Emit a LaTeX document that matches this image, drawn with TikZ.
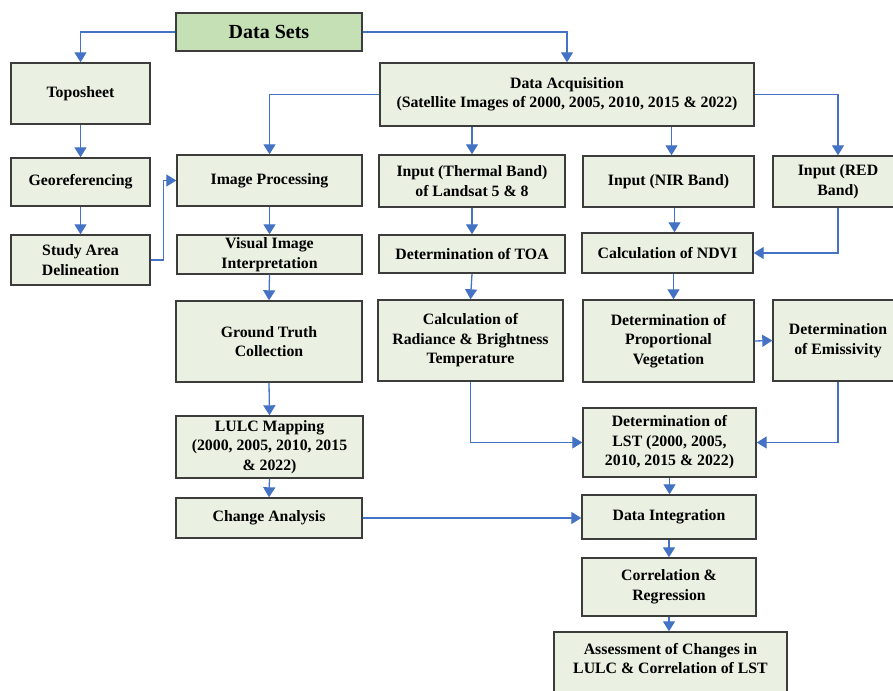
\documentclass[tikz,border=0pt]{standalone}
\usepackage{fontspec}
\setmainfont{Liberation Serif}
\usetikzlibrary{arrows.meta}
\definecolor{boxfill}{HTML}{EAF0E2}
\definecolor{topfill}{HTML}{C5E0B4}
\definecolor{boxline}{HTML}{3C3C3C}
\definecolor{arr}{HTML}{4472C4}
\tikzset{
  bx/.style={draw=boxline, line width=1.4pt, fill=boxfill, align=center, inner sep=0pt,
    font=\fontsize{15.8}{19.5}\selectfont\bfseries},
  topbx/.style={bx, fill=topfill, font=\fontsize{20}{23}\selectfont\bfseries},
  ar/.style={draw=arr, line width=1.3pt, -{Triangle[width=12pt,length=10pt]}}
}
\newcommand{\bnode}[7][bx]{%
  \node[#1, minimum width={(#5)-(#3)}, minimum height={(#6)-(#4)}] (#2) at ({((#3)+(#5))/2},{((#4)+(#6))/2}) {#7};}
\begin{document}
\begin{tikzpicture}[x=1pt,y=-1pt]
\path[use as bounding box] (0,0) rectangle (893,690);
\clip (0,0) rectangle (893,690);
\fill[white] (0,0) rectangle (893,690);
% nodes
\bnode[topbx]{ds}{176}{13}{362}{51}{Data Sets}
\bnode{topo}{11}{63}{150}{124}{Toposheet}
\bnode{geo}{11}{158}{150}{206}{Georeferencing}
\bnode{sa}{11}{235}{150}{285}{Study Area\\Delineation}
\bnode{da}{380}{63}{754}{126}{Data Acquisition\\(Satellite Images of 2000, 2005, 2010, 2015 \& 2022)}
\bnode{ip}{177}{155}{362}{206}{Image Processing}
\bnode{vi}{177}{235}{362}{274}{Visual Image\\Interpretation}
\bnode{gt}{176}{301}{362}{382}{Ground Truth\\Collection}
\bnode{lulc}{176}{416}{363}{478}{LULC Mapping\\(2000, 2005, 2010, 2015\\\& 2022)}
\bnode{ch}{176}{498}{362}{538}{Change Analysis}
\bnode{th}{379}{155}{565}{207}{Input (Thermal Band)\\of Landsat 5 \& 8}
\bnode{toa}{379}{235}{565}{273}{Determination of TOA}
\bnode{rad}{378}{300}{563}{381}{Calculation of\\Radiance \& Brightness\\Temperature}
\bnode{nir}{583}{156}{754}{207}{Input (NIR Band)}
\bnode{ndvi}{582}{233}{753}{273}{Calculation of NDVI}
\bnode{pv}{583}{300}{754}{382}{Determination of\\Proportional\\Vegetation}
\bnode{red}{773}{156}{903}{207}{Input (RED\\Band)}
\bnode{em}{773}{300}{903}{381}{Determination\\of Emissivity}
\bnode{lst}{583}{408}{756}{477}{Determination of\\LST (2000, 2005,\\2010, 2015 \& 2022)}
\bnode{di}{582}{495}{756}{539}{Data Integration}
\bnode{cr}{582}{558}{756}{616}{Correlation \&\\Regression}
\bnode{as}{554}{632}{787}{700}{Assessment of Changes in\\LULC \& Correlation of LST\\[-4pt]\mbox{}}
% connectors
\draw[ar] (ds.west) -| (topo.north);
\draw[ar] (ds.east) -| (da.north);
\draw[ar] (topo.south) -- (geo.north);
\draw[ar] (geo.south) -- (sa.north);
\draw[ar] (sa.east) -- ++(13,0) |- (ip.west);
\draw[ar] (da.west) -| (ip.north);
\draw[ar] (ip.south) -- (vi.north);
\draw[ar] (vi.south) -- (gt.north);
\draw[ar] (gt.south) -- (lulc.north);
\draw[ar] (lulc.south) -- (ch.north);
\draw[ar] (ch.east) -- (ch.east -| di.west);
\draw[ar] (th.north |- da.south) -- (th.north);
\draw[ar] ([xshift=3pt]nir.north |- da.south) -- ([xshift=3pt]nir.north);
\draw[ar] (da.east) -| (red.north);
\draw[ar] (th.south) -- (toa.north);
\draw[ar] (toa.south) -- (rad.north);
\draw[ar] ([xshift=6pt]nir.south) -- ([xshift=6pt]nir.south |- ndvi.north);
\draw[ar] (red.south) |- (ndvi.east);
\draw[ar] ([xshift=6pt]ndvi.south) -- ([xshift=6pt]ndvi.south |- pv.north);
\draw[ar] (pv.east) -- (em.west);
\draw[ar] (rad.south) |- (lst.west);
\draw[ar] (em.south) |- (lst.east);
\draw[ar] (lst.south) -- (lst.south |- di.north);
\draw[ar] (di.south) -- (di.south |- cr.north);
\draw[ar] (cr.south) -- (cr.south |- as.north);
\end{tikzpicture}
\end{document}
